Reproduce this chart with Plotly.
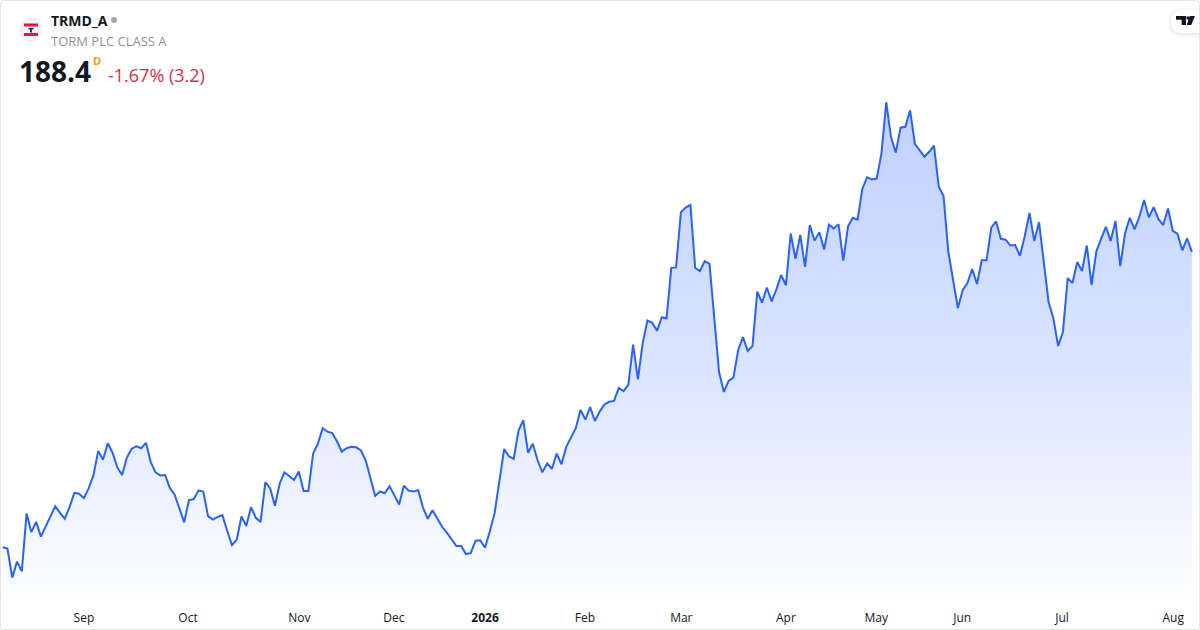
import plotly.graph_objects as go

closes = [
122.2,121.9,115.4,119.0,116.8,129.8,125.6,127.9,124.6,126.9,129.4,131.4,129.9,128.6,131.2,134.4,134.2,133.2,135.4,138.3,
143.8,141.8,145.5,143.4,140.1,138.4,142.3,144.3,144.8,144.4,145.6,141.3,139.0,138.3,138.4,135.5,134.0,131.0,127.8,132.8,
133.0,134.9,134.7,129.2,128.4,129.0,129.4,125.9,122.7,123.9,129.1,127.0,131.2,128.8,127.9,136.8,135.4,131.5,136.5,139.0,
138.1,137.3,139.2,
134.8,134.8,143.2,145.4,148.9,148.1,147.8,145.9,143.6,144.4,144.7,144.6,143.9,141.7,137.8,133.7,134.7,134.3,135.9,133.7,
131.8,136.0,134.9,134.7,135.0,131.1,128.6,130.5,128.5,126.8,125.5,124.0,122.5,122.5,120.7,120.9,123.7,123.8,122.1,125.8,
129.9,137.0,144.2,142.6,142.0,148.3,150.7,143.4,145.4,141.7,139.0,141.0,139.8,143.2,140.8,144.7,146.9,148.9,153.0,150.8,
153.6,150.5,152.6,
154.2,154.8,155.0,157.9,157.2,158.6,167.6,159.8,167.9,173.0,172.5,170.7,173.7,173.5,184.8,184.9,197.2,198.3,198.9,184.8,
184.1,186.3,185.7,173.5,161.4,157.0,159.5,160.2,166.4,169.3,166.2,167.3,179.5,177.0,180.4,177.3,180.0,183.2,180.9,192.5,
186.8,192.2,185.0,194.4,190.9,192.8,188.9,194.5,193.6,194.6,186.4,194.1,196.0,195.6,
202.5,205.1,204.6,204.8,210.4,221.9,214.1,210.6,216.2,216.4,220.1,212.6,211.0,209.7,210.8,212.2,203.0,200.9,188.4,182.0,
175.8,179.8,181.4,184.5,181.2,186.5,186.5,193.8,195.2,191.3,191.1,189.8,189.9,187.5,191.9,197.1,190.8,195.0,186.2,177.1,
173.5,167.3,170.5,182.5,181.4,186.1,184.1,189.8,181.0,188.5,191.3,194.0,190.8,195.3,185.2,192.5,196.0,193.4,196.2,200.0,
196.1,198.4,195.7,194.4,198.1,193.1,192.4,188.7,191.4,188.4,
]
sessions = list(range(len(closes)))
tick_sessions = [17.0, 38.8, 62.1, 81.9, 101.0, 121.9, 142.1, 164.0, 182.9, 200.9, 221.8, 245.1]
tick_labels = ["Sep", "Oct", "Nov", "Dec", "<b>2026</b>", "Feb", "Mar", "Apr", "May", "Jun", "Jul", "Aug"]

W, H = 1200, 630
FONT = "Open Sans"
INK = "#131722"
px = lambda x: x / W
py = lambda y: 1 - y / H

def path(points):
    return "M " + " L ".join(f"{px(x):.5f},{py(y):.5f}" for x, y in points) + " Z"

def rect(x0, y0, x1, y1, color):
    return dict(type="rect", xref="paper", yref="paper", x0=px(x0), x1=px(x1), y0=py(y0), y1=py(y1),
                fillcolor=color, line_width=0, layer="above")

def circle(cx, cy, r, color):
    return dict(type="circle", xref="paper", yref="paper", x0=px(cx - r), x1=px(cx + r), y0=py(cy - r), y1=py(cy + r),
                fillcolor=color, line_width=0, layer="above")

def poly(points, color):
    return dict(type="path", xref="paper", yref="paper", path=path(points), fillcolor=color, line_width=0, layer="above")

def pill(x0, y0, r, color):
    pts = f"M {px(W+2)},{py(y0)} L {px(x0+r)},{py(y0)} Q {px(x0)},{py(y0)} {px(x0)},{py(y0+r)} "
    pts += f"Q {px(x0)},{py(y0+2*r)} {px(x0+r)},{py(y0+2*r)} L {px(W+2)},{py(y0+2*r)} Z"
    return dict(type="path", xref="paper", yref="paper", path=pts, fillcolor=color, line_width=0, layer="above")

shapes = [
    circle(31, 30, 12, "#f0f3fa"),
    rect(24, 23.5, 38, 26.5, "#e5173f"),
    rect(24, 33, 38, 36, "#e5173f"),
    rect(28.5, 28, 33.5, 29.5, "#1d3f7a"),
    rect(30, 28, 32, 32.5, "#1d3f7a"),
    circle(114, 20, 3, "#a3a6af"),
]
for grow, alpha in [(4, 0.010), (3, 0.014), (2, 0.020), (1, 0.025)]:
    shapes.append(pill(1171 - grow, 10 + 1 - grow, 11.5 + grow, f"rgba(19,23,34,{alpha})"))
shapes += [
    pill(1171, 10, 11.5, "#ffffff"),
    poly([(1176, 16), (1186, 16), (1186, 25), (1181.6, 25), (1181.6, 19.8), (1176, 19.8)], "#131722"),
    circle(1188, 18, 1.7, "#131722"),
    poly([(1189.8, 16), (1195, 16), (1191.2, 25), (1186.6, 25)], "#131722"),
    dict(type="path", xref="paper", yref="paper", layer="above", fillcolor="rgba(0,0,0,0)",
         line=dict(color="#e4e4e6", width=1),
         path=(f"M {px(3.5)},{py(0.5)} L {px(1196.5)},{py(0.5)} Q {px(1199.5)},{py(0.5)} {px(1199.5)},{py(3.5)} "
               f"L {px(1199.5)},{py(626.5)} Q {px(1199.5)},{py(629.5)} {px(1196.5)},{py(629.5)} "
               f"L {px(3.5)},{py(629.5)} Q {px(0.5)},{py(629.5)} {px(0.5)},{py(626.5)} "
               f"L {px(0.5)},{py(3.5)} Q {px(0.5)},{py(0.5)} {px(3.5)},{py(0.5)} Z")),
]

def label(text, x, y, size, color, xanchor="left"):
    return dict(text=text, xref="paper", yref="paper", x=px(x), y=py(y), xanchor=xanchor, yanchor="middle",
                showarrow=False, font=dict(family=FONT, size=size, color=color), borderpad=0, borderwidth=0)

annotations = [
    label("<b>TRMD_A</b>", 51, 21, 14, INK),
    label("TORM PLC CLASS A", 51, 41, 13, "#8f929b"),
    label("<b>188.4</b>", 19, 71, 28, INK),
    label("<b>D</b>", 93, 61, 11, "#ff9800"),
    label("-1.67% (3.2)", 108, 75, 18, "#d5324a"),
]

fig = go.Figure(go.Scatter(
    x=sessions, y=closes, mode="lines", hoverinfo="skip",
    line=dict(color="#2962ff", width=2, shape="linear"),
    fill="tozeroy",
    fillgradient=dict(
        type="vertical", start=219.0, stop=107.5,
        colorscale=[[0.0, "rgba(41,98,255,0.29)"], [0.54, "rgba(41,98,255,0.16)"],
                    [0.8, "rgba(41,98,255,0.065)"], [1.0, "rgba(41,98,255,0.00)"]],
    ),
))
fig.update_layout(
    width=W, height=H, autosize=False, showlegend=False,
    margin=dict(l=0, r=0, t=0, b=0, pad=0),
    paper_bgcolor="#ffffff", plot_bgcolor="#ffffff",
    font=dict(family=FONT, color=INK),
    shapes=shapes, annotations=annotations,
    xaxis=dict(range=[-0.565, 250.7], domain=[0, 1], showgrid=False, zeroline=False, showline=False,
               tickmode="array", tickvals=tick_sessions, ticktext=tick_labels,
               ticks="outside", ticklen=7, tickcolor="rgba(0,0,0,0)",
               tickfont=dict(family=FONT, size=12, color=INK)),
    yaxis=dict(range=[110.4, 244.8], domain=[30 / H, 1], visible=False, showgrid=False, zeroline=False),
)
fig.write_html("out.html", config=dict(displayModeBar=False), post_script="document.body.style.margin='0';")
